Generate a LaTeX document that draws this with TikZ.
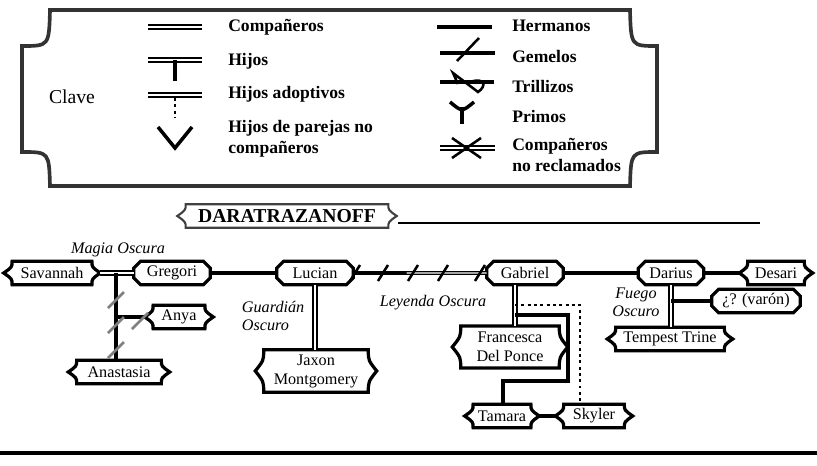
\documentclass[tikz,border=0pt]{standalone}
\usepackage{fontspec}
\setmainfont{Liberation Serif}
\usetikzlibrary{
  calc,       % 坐标计算
  positioning % 节点相对定位
}
\tikzset{
  persona/.style={inner sep=0pt, minimum height=0.575cm, align=center,
    font=\fontsize{11.5}{13.5}\selectfont},
  marco/.style={line width=2.3pt, line join=miter},
  hermanos/.style={line width=2.5pt},
  parejas/.style={double, double distance=1.5pt, line width=1.2pt},
  adoptivo/.style={line width=2.1pt, dash pattern=on 2.1pt off 2.4pt},
  gemelo/.style={line width=1.8pt},
  clave/.style={anchor=west, align=left, inner sep=0pt,
    font=\bfseries\fontsize{12.5}{15}\selectfont},
  epiteto/.style={font=\itshape\fontsize{11.5}{13}\selectfont}
}
% 括号形外框
\newcommand{\llave}[2][]{%
  \draw[marco,#1] (#2.north west) -- (#2.north east)
    .. controls ($(#2.north east)!0.5!(#2.east)$) .. ($(#2.east)+(6pt,0)$)
    .. controls ($(#2.south east)!0.5!(#2.east)$) .. (#2.south east)
    -- (#2.south west)
    .. controls ($(#2.south west)!0.5!(#2.west)$) .. ($(#2.west)+(-6pt,0)$)
    .. controls ($(#2.north west)!0.5!(#2.west)$) .. (#2.north west) -- cycle;}
% 切角外框
\newcommand{\octo}[1]{%
  \draw[marco] ($(#1.north west)+(5pt,0)$) -- ($(#1.north east)+(-5pt,0)$)
    -- ($(#1.north east)+(0,-5pt)$) -- ($(#1.south east)+(0,5pt)$)
    -- ($(#1.south east)+(-5pt,0)$) -- ($(#1.south west)+(5pt,0)$)
    -- ($(#1.south west)+(0,5pt)$) -- ($(#1.north west)+(0,-5pt)$) -- cycle;}

\begin{document}
\begin{tikzpicture}[x=0.025cm, y=-0.025cm]
  \useasboundingbox (0,0) rectangle (817,466);

  % =========== 图例 ===========
  \draw[line width=2.6pt, black!80] (50,10) -- (630,10)
    .. controls (631,46) .. (657,46) -- (657,152)
    .. controls (631,152) .. (630,186) -- (50,186)
    .. controls (49,152) .. (22,152) -- (22,46)
    .. controls (49,46) .. (50,10) -- cycle;
  \node[font=\fontsize{14}{16}\selectfont] (clave) at (72,97) {Clave};

  % 左列符号
  \draw[parejas] (148,27) -- (202,27);
  \draw[parejas] (148,60) -- (202,60);
  \draw[hermanos] (175,60) -- (175,81);
  \draw[parejas] (148,95) -- (202,95);
  \draw[adoptivo] (175,98) -- (175,118);
  \draw[hermanos, line join=miter] (158,127) -- (175,148) -- (192,127);
  \node[clave] (k1) at (228,27) {Compañeros};
  \node[clave] (k2) at (228,61) {Hijos};
  \node[clave] (k3) at (228,94) {Hijos adoptivos};
  \node[clave] (k4) at (228,139) {Hijos de parejas no\\compañeros};

  % 右列符号
  \draw[hermanos, line width=2.8pt] (437,27) -- (492,27);
  \draw[hermanos] (440,53) -- (495,53);
  \draw[gemelo] (457,61) -- (479,38);
  \draw[hermanos] (440,82) -- (494,82);
  \draw[gemelo] (458,84) -- (453,73) -- (478,92)
    .. controls (487,86) and (485,77) .. (470,82);
  \draw[hermanos] (450,102) .. controls (462,112) .. (474,102);
  \draw[hermanos] (462,107) -- (462,124);
  \draw[parejas] (440,148) -- (495,148);
  \draw[gemelo] (452,138) -- (481,158);
  \draw[gemelo] (452,158) -- (481,138);
  \node[clave] (k5) at (512,26) {Hermanos};
  \node[clave] (k6) at (512,56) {Gemelos};
  \node[clave] (k7) at (512,86) {Trillizos};
  \node[clave] (k8) at (512,116) {Primos};
  \node[clave] (k9) at (512,155) {Compañeros\\no reclamados};

  % =========== 标题 ===========
  \node[inner sep=0pt, minimum width=5.05cm, minimum height=0.575cm,
    font=\bfseries\fontsize{14}{14}\selectfont] (tit) at (287,216) {DARATRAZANOFF};
  \llave[line width=1.5pt, black!75]{tit}
  \coordinate (tini) at ([xshift=7pt]tit.east);
  \coordinate (tfin) at (760,223);
  \draw[line width=2pt] (tini |- tfin) -- (tfin);

  % =========== 人物 ===========
  \node[persona, minimum width=1.98cm] (sav) at (52,273) {Savannah};
  \node[persona, minimum width=1.9cm] (greg) at (172,273) {Gregori};
  \node[persona, minimum width=1.9cm] (luc) at (315,273) {Lucian};
  \node[persona, minimum width=1.9cm] (gab) at (525,273) {Gabriel};
  \node[persona, minimum width=1.62cm] (dar) at (671,273) {Darius};
  \node[persona, minimum width=1.4cm] (des) at (776,273) {Desari};
  \node[persona, minimum width=1.28cm] (anya) at (179,317) {Anya};
  \node[persona, minimum width=2.1cm] (ana) at (119,372) {Anastasia};
  \node[persona, minimum width=2.6cm, minimum height=1.05cm] (jax) at (316,371) {Jaxon\\Montgomery};
  \node[persona, minimum width=2.45cm, minimum height=1.03cm] (fran) at (510,347) {Francesca\\Del Ponce};
  \node[persona, minimum width=1.43cm] (tam) at (502,416) {Tamara};
  \node[persona, minimum width=1.5cm] (sky) at (594,416) {Skyler};
  \node[persona, minimum width=2.7cm] (tem) at (670,339) {Tempest Trine};
  \node[persona, minimum width=2.2cm] (var) at (756,301) {¿? (varón)};
  \foreach \n in {sav,anya,ana,jax,fran,tam,sky,tem,des} {\llave{\n}}
  \foreach \n in {greg,luc,gab,dar,var} {\octo{\n}}

  % 称号
  \node[epiteto] (magia) at (118,250) {Magia Oscura};
  \node[epiteto, anchor=west, align=left] (guard) at (237,316) {Guardián\\Oscuro};
  \node[epiteto] (leyenda) at (433,303) {Leyenda Oscura};
  \node[epiteto, align=center] (fuego) at (636,302) {Fuego\\Oscuro};

  % =========== 连线 ===========
  % Gregori 一支
  \coordinate (mo) at (116,273);
  \draw[parejas] ([xshift=6pt]sav.east) -- (greg.west);
  \draw[hermanos, line width=3pt] (mo) -- (mo |- ana.north);
  \draw[hermanos] (mo |- anya) -- ([xshift=-6pt]anya.west);
  \foreach \y in {300,325,350} \draw[gemelo, gray] (108,\y+8) -- (124,\y-8);
  \draw[gemelo, gray] (132,329) -- (148,313);

  % Lucian 与 Gabriel (双胞胎)
  \draw[hermanos] (greg.east) -- (luc.west);
  \draw[hermanos, line width=3.4pt] (luc.east) -- (gab.west);
  \draw[white, line width=0.9pt] ($(luc.east)!0.4!(gab.west)$) -- (gab.west);
  \foreach \x in {355,383,413,443,480} \draw[gemelo] (\x-5,281) -- (\x+5,265);
  \draw[parejas] (luc.south) -- (luc.south |- jax.north);

  % Darius 一支
  \draw[hermanos] (gab.east) -- (dar.west);
  \draw[hermanos] (dar.east) -- ([xshift=-6pt]des.west);
  \draw[parejas] (dar.south) -- (dar.south |- tem.north);
  \draw[hermanos] (dar.south |- var) -- (var.west);

  % Gabriel 一支
  \coordinate (gv) at (515,273);
  \coordinate (gd) at (580,305);
  \coordinate (ga) at (568,315);
  \coordinate (gb) at (503,381);
  \draw[parejas] (gv |- gab.south) -- (gv |- fran.north);
  \draw[adoptivo] (gv |- gd) -- (gd) -- (gd |- sky.north);
  \draw[hermanos] (gv |- ga) -- (ga) -- (ga |- gb) -- (gb) -- (gb |- tam.north);
  \draw[hermanos] ([xshift=6pt]tam.east) -- ([xshift=-6pt]sky.west);

  % 底线
  \coordinate (pie0) at (0,453);
  \coordinate (pie1) at (817,453);
  \draw[line width=2.2pt] (pie0) -- (pie1);
\end{tikzpicture}
\end{document}
